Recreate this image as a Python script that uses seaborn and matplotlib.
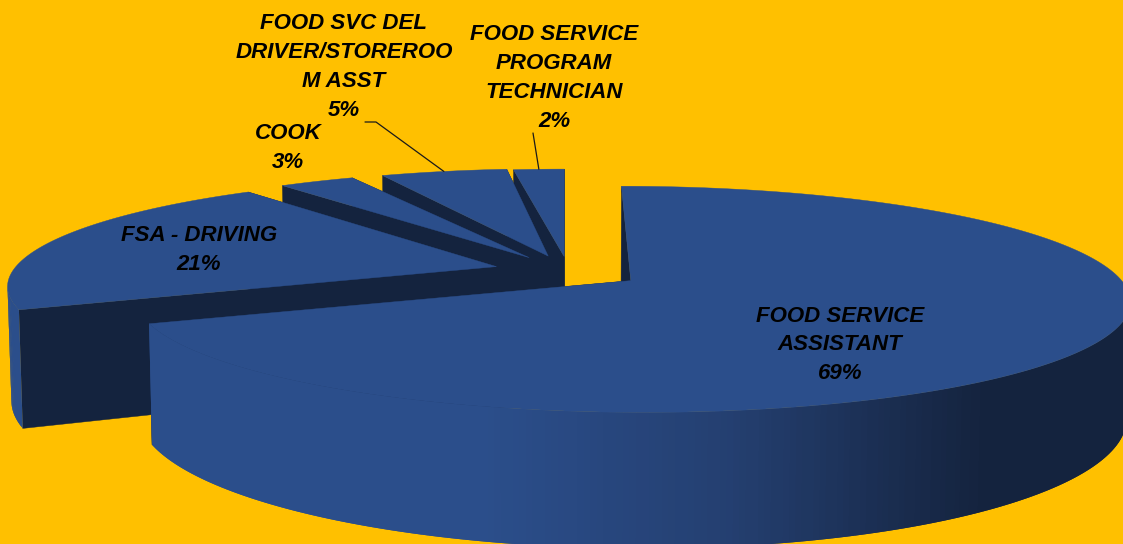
import numpy as np
import matplotlib
matplotlib.use("Agg")
import matplotlib.pyplot as plt
from matplotlib.patches import Polygon
import seaborn as sns

# Job categories and their share of staff, clockwise from twelve o'clock
categories = [
    "FOOD SERVICE\nASSISTANT",
    "FSA - DRIVING",
    "COOK",
    "FOOD SVC DEL\nDRIVER/STOREROO\nM ASST",
    "FOOD SERVICE\nPROGRAM\nTECHNICIAN",
]
shares = [69, 21, 3, 5, 2]

# Label centres in pixels, in the same order as the categories
label_x = [840, 199, 288, 344, 554]
label_y = [345, 250, 148, 67, 78]

BACKGROUND = "#FFC000"
TOP_BLUE = "#2B4E8B"
SIDE_DARK = "#14233E"

# Perspective camera for the tilted disc
CX, CY = 565.0, 271.0
SCALE_X, SCALE_Y = 479.0, 105.8
DEPTH_K = 0.161
THICKNESS = 112.0
TAPER = 0.007

# Per-slice pull-out distance, angular adjustment, sideways shift and radius
EXPLODE = [0.16, 0.15, 0.15, 0.15, 0.14]
SPIN_DEG = [0.0, -1.0, -1.0, 1.0, 0.0]
SHIFT_U = [0.003, 0.0, 0.0, 0.006, 0.007]
RADIUS = [1.01, 1.01, 1.0, 1.0, 1.0]


def project(u, v, z=0.0):
    """Map disc coordinates (u right, v away, z downward) to pixels."""
    w = 1.0 + DEPTH_K * v
    x = CX + SCALE_X * u / w * (1.0 - TAPER * z)
    y = CY - SCALE_Y * v / w + THICKNESS * z / w
    return x, y


sns.set_theme(style="white")

fig = plt.figure(figsize=(11.23, 5.44), dpi=100, facecolor=BACKGROUND)
ax = fig.add_axes([0, 0, 1, 1])
ax.set_xlim(0, 1123)
ax.set_ylim(544, 0)
ax.axis("off")

side_ramp = sns.blend_palette([TOP_BLUE, "#243F70", SIDE_DARK], 64)


def side_colour(x):
    t = np.clip((x - 480.0) / 500.0, 0, 1)
    return side_ramp[int(t * 63)]


def draw_slice(start, stop, explode, spin, shift, radius):
    mid = (start + stop) / 2
    apex_u = explode * np.sin(mid) + shift
    apex_v = explode * np.cos(mid)
    angles = np.linspace(start, stop, max(int((stop - start) * 90), 8)) + spin
    rim_u = apex_u + radius * np.sin(angles)
    rim_v = apex_v + radius * np.cos(angles)

    # Flat cut faces running from the apex to each end of the rim
    for u_end, v_end in ((rim_u[0], rim_v[0]), (rim_u[-1], rim_v[-1])):
        corners = [project(apex_u, apex_v), project(u_end, v_end),
                   project(u_end, v_end, 1), project(apex_u, apex_v, 1)]
        ax.add_patch(Polygon(corners, closed=True, fc=SIDE_DARK, ec=SIDE_DARK, lw=0.3))

    # Curved outer wall, only where it faces the viewer; strips overlap to hide seams
    for i in range(len(angles) - 1):
        j = min(i + 2, len(angles) - 1)
        x0 = project(rim_u[i], rim_v[i])[0]
        x1 = project(rim_u[i + 1], rim_v[i + 1])[0]
        if x1 >= x0:
            continue
        corners = [project(rim_u[i], rim_v[i]), project(rim_u[j], rim_v[j]),
                   project(rim_u[j], rim_v[j], 1), project(rim_u[i], rim_v[i], 1)]
        ax.add_patch(Polygon(corners, closed=True, fc=side_colour((x0 + x1) / 2), lw=0))

    # Upper surface
    outline = [project(apex_u, apex_v)] + [project(a, b) for a, b in zip(rim_u, rim_v)]
    ax.add_patch(Polygon(outline, closed=True, fc=TOP_BLUE, ec=TOP_BLUE, lw=0.3))

    return project(apex_u + radius * np.sin(mid + spin), apex_v + radius * np.cos(mid + spin))


fractions = np.array(shares, dtype=float) / sum(shares)
edges = np.concatenate([[0.0], np.cumsum(fractions)]) * 2 * np.pi

# Paint from the far slices to the near ones
rim_points = {}
for idx in range(len(shares) - 1, -1, -1):
    rim_points[idx] = draw_slice(edges[idx], edges[idx + 1], EXPLODE[idx],
                                 np.radians(SPIN_DEG[idx]), SHIFT_U[idx], RADIUS[idx])

for name, share, x, y in zip(categories, shares, label_x, label_y):
    ax.text(x, y, f"{name}\n{share}%", ha="center", va="center", color="black",
            family="Liberation Sans", style="italic", weight="bold", fontsize=16,
            linespacing=1.48, zorder=5)

# Leader lines for the two labels sitting away from narrow slices
x_end, y_end = rim_points[3]
ax.plot([365, 376, x_end], [122, 122, y_end], color="#1a1a1a", lw=0.9, zorder=4)
x_end, y_end = rim_points[4]
ax.plot([533, x_end], [133, y_end], color="#1a1a1a", lw=0.9, zorder=4)

fig.savefig("out.png", dpi=100, facecolor=BACKGROUND)
